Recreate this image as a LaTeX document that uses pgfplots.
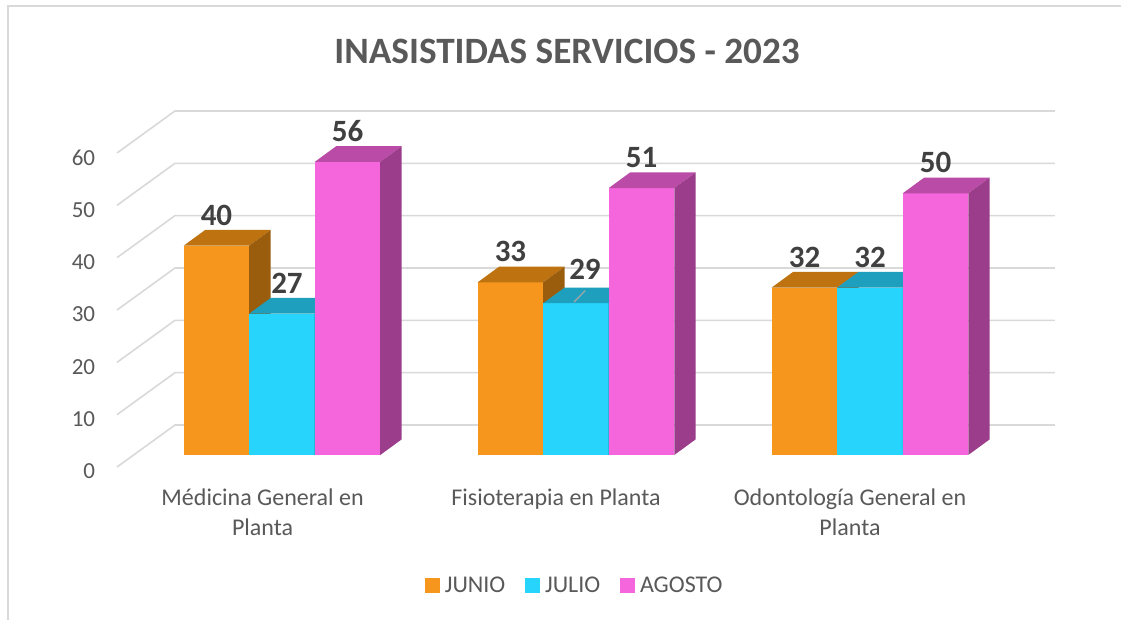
\documentclass[border=0pt]{standalone}
\usepackage{fontspec}
\setmainfont{Carlito}
\usepackage{pgfplots}
\usepackage{pgfplotstable}
\pgfplotsset{compat=1.18}
\definecolor{ojf}{HTML}{F7961C}
\definecolor{ojt}{HTML}{BE7310}
\definecolor{ojs}{HTML}{9A5D0D}
\definecolor{cyf}{HTML}{27D4FC}
\definecolor{cyt}{HTML}{1E9FBE}
\definecolor{cys}{HTML}{1A86A0}
\definecolor{mgf}{HTML}{F565DC}
\definecolor{mgt}{HTML}{BA4CA8}
\definecolor{mgs}{HTML}{9B3D8A}
\definecolor{gridc}{HTML}{D9D9D9}
\definecolor{txtc}{HTML}{595959}
\definecolor{lblc}{HTML}{404040}
\definecolor{leadc}{HTML}{A6A6A6}

\pgfplotstableread{
x junio julio agosto
0 40 27 56
1 33 29 51
2 32 32 50
}\datatable

% one 3D bar: centre, value, front, top, side colours
\newcommand\barthreed[5]{%
  \pgfmathsetmacro\bxl{#1-0.1114}%
  \pgfmathsetmacro\bxr{#1+0.1114}%
  \pgfmathsetmacro\bxld{\bxl+0.073}%
  \pgfmathsetmacro\bxrd{\bxr+0.073}%
  \pgfmathsetmacro\bv{#2}%
  \pgfmathsetmacro\bvd{#2+3.0}%
  \edef\barcmds{%
    \noexpand\addplot[fill=#3,draw=none,forget plot] coordinates {(\bxl,0) (\bxr,0) (\bxr,\bv) (\bxl,\bv)};
    \noexpand\addplot[fill=#4,draw=none,forget plot] coordinates {(\bxl,\bv) (\bxr,\bv) (\bxrd,\bvd) (\bxld,\bvd)};
    \noexpand\addplot[fill=#5,draw=none,forget plot] coordinates {(\bxr,0) (\bxr,\bv) (\bxrd,\bvd) (\bxrd,3.0)};
  }\barcmds
}
% label: centre, value, xshift, yshift
\newcommand\barlabel[4]{%
  \pgfmathsetmacro\bxc{#1}%
  \pgfmathsetmacro\bvd{#2+3.0}%
  \edef\lblcmds{%
    \noexpand\addplot[only marks, mark=*, mark size=0pt, forget plot, nodes near coords={#2},
      every node near coord/.append style={xshift=#3, yshift=#4}] coordinates {(\bxc,\bvd)};
  }\lblcmds
}

\begin{document}
\begin{tikzpicture}
\useasboundingbox (0,0) rectangle (560.5pt,310pt);
\fill[white] (0,0) rectangle (560.5pt,310pt);
\draw[gridc, line width=1pt] (3.75pt,0) -- (3.75pt,306.75pt) -- (562pt,306.75pt);
\begin{axis}[
  at={(50pt,69.4pt)}, anchor=south west,
  scale only axis, width=487.9pt, height=196.3pt,
  xmin=-0.619, xmax=2.7, ymin=-5, ymax=70,
  clip=false,
  axis line style={draw=none}, major tick length=0pt,
  /pgf/number format/assume math mode=true,
  xtick={-0.066,0.932,1.932},
  xticklabels={{\strut Médicina General en\\Planta},{\strut Fisioterapia en Planta},{\strut Odontología General en\\Planta}},
  xticklabel style={align=center, font=\fontsize{12}{15}\selectfont, text=txtc, anchor=north, inner sep=0pt, yshift=-1.5pt},
  ytick={-3.17,6.83,16.83,26.83,36.83,46.83,56.83},
  yticklabels={0,10,20,30,40,50,60},
  yticklabel style={font=\fontsize{11.5}{13}\selectfont, text=txtc, anchor=east, inner sep=0pt, xshift=-2.25pt},
  title={INASISTIDAS SERVICIOS - 2023},
  title style={at={(0.4787,1.065)}, anchor=center, yshift=0pt, font=\fontsize{18.6}{22}\selectfont\bfseries, text=txtc},
  every node near coord/.append style={font=\fontsize{15.5}{18}\selectfont\bfseries, text=lblc, anchor=south, inner sep=2pt},
  legend style={at={(axis cs:1.001,-25)}, anchor=center, draw=none, fill=none,
    legend columns=3, font=\fontsize{12}{14}\selectfont, text=txtc,
    /tikz/every even column/.append style={column sep=7.5pt},
    nodes={inner xsep=2.5pt, inner ysep=0pt}},
  legend cell align=left,
]
% back wall and left wall gridlines
\addplot[gridc, line width=0.8pt, forget plot] coordinates {(-0.561,-2.29) (-0.364,5.73) (2.629,5.73)};
\addplot[gridc, line width=0.8pt, forget plot] coordinates {(-0.561,7.71) (-0.364,15.73) (2.629,15.73)};
\addplot[gridc, line width=0.8pt, forget plot] coordinates {(-0.561,17.71) (-0.364,25.73) (2.629,25.73)};
\addplot[gridc, line width=0.8pt, forget plot] coordinates {(-0.561,27.71) (-0.364,35.73) (2.629,35.73)};
\addplot[gridc, line width=0.8pt, forget plot] coordinates {(-0.561,37.71) (-0.364,45.73) (2.629,45.73)};
\addplot[gridc, line width=0.8pt, forget plot] coordinates {(-0.561,47.71) (-0.364,55.73) (2.629,55.73)};
\addplot[gridc, line width=0.8pt, forget plot] coordinates {(-0.561,57.71) (-0.364,65.73) (2.629,65.73)};
% bars
\pgfplotsforeachungrouped \r in {0,1,2}{%
  \pgfplotstablegetelem{\r}{junio}\of\datatable \edef\vJ{\pgfplotsretval}%
  \pgfplotstablegetelem{\r}{julio}\of\datatable \edef\vL{\pgfplotsretval}%
  \pgfplotstablegetelem{\r}{agosto}\of\datatable \edef\vA{\pgfplotsretval}%
  \barthreed{\r-0.2228}{\vJ}{ojf}{ojt}{ojs}%
  \barthreed{\r}{\vL}{cyf}{cyt}{cys}%
  \barthreed{\r+0.2228}{\vA}{mgf}{mgt}{mgs}%
}
% leader line of the label 29
\addplot[leadc, line width=0.6pt, forget plot] coordinates {(0.993,29.2) (1.031,31.4)};
% data labels
\pgfplotstablegetelem{0}{junio}\of\datatable \edef\vv{\pgfplotsretval}\barlabel{-0.2228}{\vv}{0pt}{0pt}
\pgfplotstablegetelem{0}{julio}\of\datatable \edef\vv{\pgfplotsretval}\barlabel{0}{\vv}{2.5pt}{0pt}
\pgfplotstablegetelem{0}{agosto}\of\datatable \edef\vv{\pgfplotsretval}\barlabel{0.2228}{\vv}{0pt}{0pt}
\pgfplotstablegetelem{1}{junio}\of\datatable \edef\vv{\pgfplotsretval}\barlabel{0.7772}{\vv}{0pt}{0pt}
\pgfplotstablegetelem{1}{julio}\of\datatable \edef\vv{\pgfplotsretval}\barlabel{1}{\vv}{4.5pt}{2pt}
\pgfplotstablegetelem{1}{agosto}\of\datatable \edef\vv{\pgfplotsretval}\barlabel{1.2228}{\vv}{0pt}{0pt}
\pgfplotstablegetelem{2}{junio}\of\datatable \edef\vv{\pgfplotsretval}\barlabel{1.7772}{\vv}{0pt}{0pt}
\pgfplotstablegetelem{2}{julio}\of\datatable \edef\vv{\pgfplotsretval}\barlabel{2}{\vv}{0pt}{0pt}
\pgfplotstablegetelem{2}{agosto}\of\datatable \edef\vv{\pgfplotsretval}\barlabel{2.2228}{\vv}{0pt}{0pt}
\addlegendimage{legend image code/.code={\fill[ojf] (0pt,-3.5pt) rectangle (7pt,3.5pt);}}
\addlegendentry{JUNIO}
\addlegendimage{legend image code/.code={\fill[cyf] (0pt,-3.5pt) rectangle (7pt,3.5pt);}}
\addlegendentry{JULIO}
\addlegendimage{legend image code/.code={\fill[mgf] (0pt,-3.5pt) rectangle (7pt,3.5pt);}}
\addlegendentry{AGOSTO}
\end{axis}
\end{tikzpicture}
\end{document}
